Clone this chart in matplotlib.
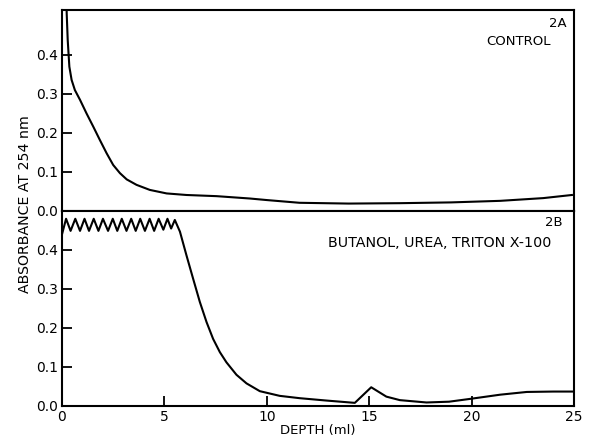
import matplotlib.pyplot as plt

# --- data ---
# 2A control
depth_a = [0.20, 0.23, 0.28, 0.36, 0.47, 0.63, 0.88, 1.20, 1.53, 1.85, 2.18, 2.50,
           2.83, 3.16, 3.64, 4.29, 5.11, 6.08, 7.55, 9.17, 10.0, 11.6, 14.0,
           16.5, 19.0, 21.4, 23.5, 24.9]
abs_a = [0.60, 0.507, 0.438, 0.370, 0.336, 0.310, 0.285, 0.250, 0.216, 0.182, 0.148, 0.118,
         0.097, 0.081, 0.067, 0.054, 0.045, 0.041, 0.038, 0.032, 0.028, 0.021, 0.019,
         0.020, 0.022, 0.026, 0.033, 0.041]

# 2B butanol, urea, triton x-100 (zigzag = trace off scale at the top)
depth_b = [0.0, 0.2, 0.42, 0.65, 0.88, 1.1, 1.32, 1.55, 1.78, 2.0, 2.25, 2.48,
           2.7, 2.92, 3.15, 3.38, 3.6, 3.82, 4.05, 4.28, 4.5, 4.72, 4.95, 5.15,
           5.33, 5.51,
           5.76, 6.08, 6.40, 6.73, 7.06, 7.38, 7.71, 8.03, 8.52, 9.01, 9.66, 10.63,
           11.61, 12.9, 14.3, 15.1, 15.84, 16.5, 17.8, 18.9, 19.9, 21.4, 22.7, 24.0, 25.0]
abs_b = [0.44, 0.48, 0.449, 0.48, 0.449, 0.48, 0.449, 0.48, 0.449, 0.48, 0.449, 0.48,
         0.449, 0.48, 0.449, 0.48, 0.449, 0.48, 0.449, 0.48, 0.449, 0.48, 0.452, 0.48,
         0.455, 0.477,
         0.447, 0.386, 0.327, 0.267, 0.215, 0.172, 0.138, 0.112, 0.080, 0.058, 0.038, 0.026,
         0.020, 0.014, 0.008, 0.048, 0.024, 0.015, 0.009, 0.011, 0.018, 0.029, 0.036, 0.037, 0.037]

yticks = [0.0, 0.1, 0.2, 0.3, 0.4]
ytick_labels = ['0.0', '0.1', '0.2', '0.3', '0.4']
xticks = [0, 5, 10, 15, 20, 25]

fig = plt.figure(figsize=(5.96, 4.4), dpi=100)
ax_a = fig.add_axes([0.104, 0.5205, 0.859, 0.4565])
ax_b = fig.add_axes([0.104, 0.0773, 0.859, 0.4432])

ax_a.plot(depth_a, abs_a, color='black', lw=1.5)
ax_b.plot(depth_b, abs_b, color='black', lw=1.5)

ax_a.set_ylim(0, 0.515)
ax_b.set_ylim(0, 0.5)
for ax in (ax_a, ax_b):
    ax.set_xlim(0, 25)
    ax.set_yticks(yticks)
    ax.set_yticklabels(ytick_labels)
    ax.tick_params(direction='in', length=7, width=1.3, labelsize=10, pad=3)
    for s in ax.spines.values():
        s.set_linewidth(1.5)

ax_a.set_xticks([])
ax_b.set_xticks(xticks)
ax_b.set_xticklabels([str(t) for t in xticks])

ax_a.text(0.985, 0.965, '2A', transform=ax_a.transAxes, ha='right', va='top', fontsize=9.5)
ax_a.text(0.955, 0.875, 'CONTROL', transform=ax_a.transAxes, ha='right', va='top', fontsize=9.5)
ax_b.text(0.978, 0.975, '2B', transform=ax_b.transAxes, ha='right', va='top', fontsize=9.5)
ax_b.text(0.956, 0.87, 'BUTANOL, UREA, TRITON X-100', transform=ax_b.transAxes,
          ha='right', va='top', fontsize=10.3)

ax_b.set_xlabel('DEPTH (ml)', fontsize=9.5, labelpad=0)
fig.text(0.042, 0.536, 'ABSORBANCE AT 254 nm', rotation=90, ha='center', va='center',
         fontsize=10.2)

plt.savefig('out.png', dpi=100)
plt.close()
